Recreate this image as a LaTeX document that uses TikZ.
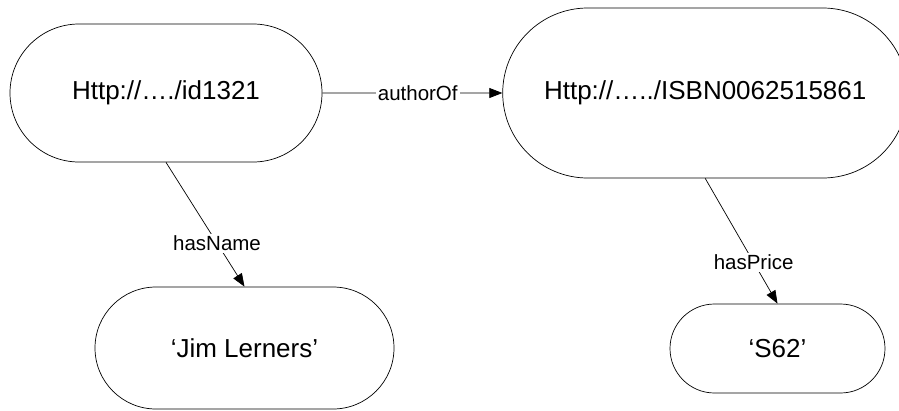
\documentclass[tikz,border=0pt]{standalone}
\usepackage{fontspec}
\setmainfont{Liberation Sans}
\usepackage{tikz}
\usetikzlibrary{arrows.meta}
\usetikzlibrary{shapes.misc, positioning}

\begin{document}
\begin{tikzpicture}[x=1pt,y=-1pt,->,>={Triangle[length=13pt,width=10pt]},
  line width=0.7pt,
  res node/.style={rounded rectangle,draw,inner sep=0pt,
    font=\fontsize{26}{30}\selectfont},
  lbl/.style={fill=white,inner sep=2pt,font=\fontsize{20.5}{24}\selectfont}]
  \useasboundingbox (0,0) rectangle (899,410);
  \node[res node, minimum width=312pt, minimum height=138pt] (author) at (166,93) {Http://…./id1321};
  \node[res node, minimum width=405pt, minimum height=170pt, right=180pt of author] (book) {Http://…../ISBN0062515861};
  \node[res node, minimum width=299pt, minimum height=122pt] (name) at (244.5,348) {‘Jim Lerners’};
  \node[res node, minimum width=215pt, minimum height=89pt] (price) at (777.5,348.5) {‘S62’};
  \path
    (author) edge node[lbl, pos=0.53] {authorOf} (book)
    (author.south) edge node[lbl, pos=0.65] {hasName} (name.north)
    (book.south) edge node[lbl, pos=0.67] {hasPrice} (price.north);
\end{tikzpicture}
\end{document}
